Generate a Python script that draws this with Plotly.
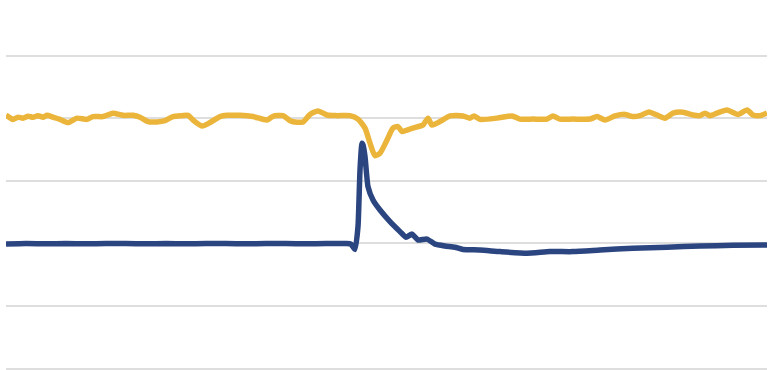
import plotly.graph_objects as go

# Yellow series (time index, value)
yellow_t = [0, 7, 12, 17, 22, 27, 32, 37, 41, 47, 54, 62, 71, 81, 87, 97, 107, 117, 127, 134,
            142, 151, 159, 167, 176, 182, 187, 196, 204, 214, 221, 234, 247, 261, 267, 277, 284,
            291, 297, 304, 312, 321, 331, 344, 352, 359, 364, 369, 374, 381, 387, 392, 396, 401,
            411, 417, 422, 426, 434, 444, 457, 464, 468, 474, 491, 506, 514, 527, 541, 547, 554,
            567, 584, 591, 599, 609, 619, 627, 634, 643, 651, 659, 667, 677, 687, 694, 699, 704,
            711, 721, 732, 741, 747, 754, 761]
yellow_v = [81.1, 79.7, 80.4, 80.1, 80.7, 80.4, 80.9, 80.4, 81.0, 80.4, 79.7, 78.7, 80.1, 79.7,
            80.6, 80.6, 81.7, 81.0, 81.0, 80.4, 79.0, 78.9, 79.3, 80.6, 80.9, 81.0, 79.5, 77.6,
            78.7, 80.6, 81.0, 81.0, 80.6, 79.5, 80.7, 80.9, 79.3, 78.8, 78.9, 81.3, 82.4, 81.1,
            80.9, 80.9, 79.8, 76.9, 72.1, 68.1, 68.9, 73.1, 76.9, 77.4, 75.8, 76.3, 77.3, 77.9,
            80.1, 77.9, 79.0, 80.8, 80.8, 80.1, 80.8, 79.7, 80.1, 80.8, 79.8, 79.8, 79.8, 80.8,
            79.8, 79.8, 79.8, 80.6, 79.5, 80.8, 81.3, 80.6, 80.9, 82.1, 81.1, 80.1, 81.7, 82.0,
            81.1, 80.9, 81.7, 80.9, 81.7, 82.7, 81.3, 82.7, 81.1, 80.9, 81.7]

# Navy series (time index, value)
navy_t = [0, 20, 40, 60, 80, 100, 120, 140, 160, 180, 200, 220, 240, 260, 280, 300, 320, 340,
          345, 349, 352, 353, 354, 356, 357, 359, 362, 367, 374, 384, 394, 400, 406, 412,
          421, 429, 439, 449, 457, 474, 494, 521, 544, 567, 594, 627, 661, 694, 727, 761]
navy_v = [39.8, 40.0, 39.9, 40.0, 39.9, 40.0, 40.0, 39.9, 40.0, 39.9, 40.0, 40.0, 39.9, 40.0,
          40.0, 39.9, 40.0, 40.0, 39.8, 38.1, 45.4, 53.9, 63.5, 72.1, 71.5, 67.8, 58.2, 53.9,
          50.7, 47.0, 43.8, 42.0, 43.0, 41.1, 41.4, 39.8, 39.2, 38.8, 38.1, 37.9, 37.4,
          36.9, 37.4, 37.4, 37.9, 38.5, 38.8, 39.2, 39.4, 39.5]

grid_vals = [0, 20, 40, 60, 80, 100]

fig = go.Figure()
fig.add_trace(go.Scatter(x=navy_t, y=navy_v, mode="lines",
                         line=dict(color="#2B4580", width=5.5, shape="spline", smoothing=0.5),
                         hoverinfo="skip"))
fig.add_trace(go.Scatter(x=yellow_t, y=yellow_v, mode="lines",
                         line=dict(color="#EBB53B", width=5.5, shape="spline", smoothing=0.6),
                         hoverinfo="skip"))

fig.update_layout(
    width=774, height=370,
    margin=dict(l=6, r=7, t=0, b=0),
    paper_bgcolor="white", plot_bgcolor="white",
    showlegend=False,
    xaxis=dict(range=[0, 761], showgrid=False, zeroline=False, showticklabels=False,
               ticks="", showline=False),
    yaxis=dict(range=[-0.48, 117.9], tickvals=grid_vals, showticklabels=False,
               showgrid=True, gridcolor="#dedede", gridwidth=2, zeroline=False,
               ticks="", showline=False),
)

fig.write_html("out.html")
